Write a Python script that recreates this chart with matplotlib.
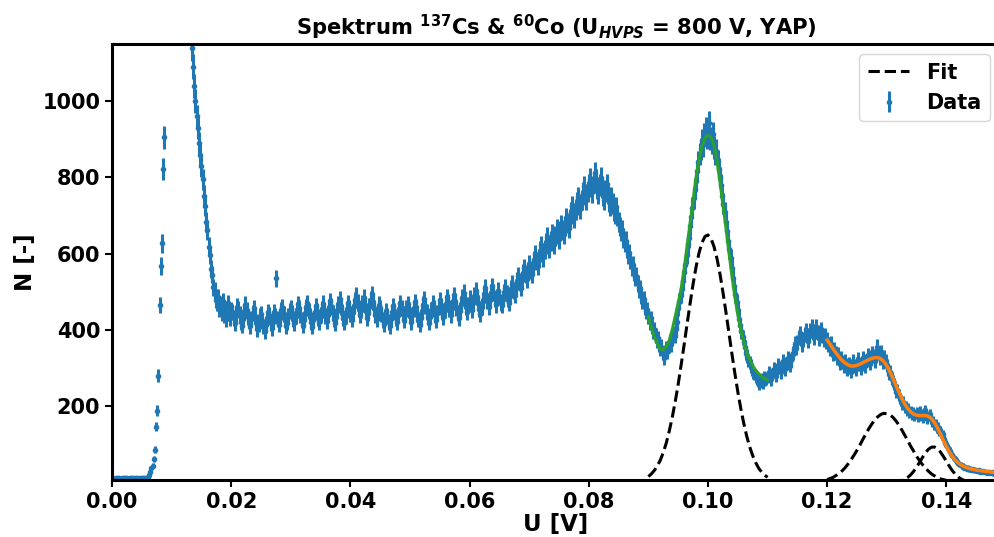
import numpy as np
import matplotlib.pyplot as plt

plt.rcParams['font.family'] = 'DejaVu Sans'
plt.rcParams['font.weight'] = 'bold'
plt.rcParams['axes.labelweight'] = 'bold'
plt.rcParams['axes.titleweight'] = 'bold'
plt.rcParams['mathtext.fontset'] = 'custom'
plt.rcParams['mathtext.rm'] = 'DejaVu Sans:bold'
plt.rcParams['mathtext.it'] = 'DejaVu Sans:italic:bold'
plt.rcParams['mathtext.bf'] = 'DejaVu Sans:bold'

# channel width of the spectrum [V]
bin_width = 0.0002

# counts per channel (0.000 - 0.0148 V)
counts_edge = [
    10, 10, 9, 10, 11, 10, 10, 9, 10, 10, 11, 10, 10, 10, 9, 10, 10, 10, 11, 10, 10, 10, 9, 10, 10,
    10, 10, 10, 11, 12, 15, 19, 28, 37, 43, 60, 85, 146, 188, 280, 465, 567, 627, 823, 905, 1250, 1600, 2000, 2400, 2800,
    3200, 3500, 3600, 3500, 3300, 3000, 2700, 2400, 2150, 1950, 1780, 1620, 1500, 1400, 1320, 1250, 1190, 1140, 1090, 1040, 1000, 960, 930, 890, 860,
]
# 0.015 - 0.0648 V
counts_plateau = [
    830, 795, 752, 726, 684, 662, 618, 596, 560, 545, 512, 503, 478, 472, 486, 455, 468, 444, 475, 438, 455, 428, 470, 445, 430,
    452, 446, 431, 418, 437, 461, 455, 442, 420, 411, 428, 449, 466, 451, 433, 424, 410, 429, 443, 458, 437, 419, 402, 415, 436,
    441, 422, 409, 396, 412, 430, 447, 438, 418, 405, 423, 446, 437, 535, 428, 414, 431, 452, 460, 441, 427, 410, 419, 437, 449,
    456, 443, 429, 417, 436, 452, 468, 457, 440, 426, 412, 425, 443, 459, 471, 450, 437, 421, 408, 427, 446, 462, 449, 431, 420,
    438, 454, 469, 451, 436, 423, 440, 459, 475, 462, 444, 429, 417, 435, 452, 466, 480, 461, 447, 430, 419, 437, 455, 471, 458,
    442, 427, 446, 463, 478, 490, 472, 455, 438, 451, 469, 484, 466, 449, 432, 445, 461, 479, 493, 474, 457, 440, 428, 447, 466,
    458, 441, 425, 416, 433, 450, 437, 421, 410, 428, 446, 462, 449, 431, 420, 438, 455, 471, 458, 442, 426, 439, 457, 468, 452,
    436, 421, 438, 456, 472, 459, 441, 427, 414, 430, 449, 466, 480, 463, 447, 433, 419, 435, 452, 470, 458, 440, 425, 443, 461,
    477, 463, 448, 434, 451, 469, 486, 472, 455, 440, 458, 476, 491, 474, 459, 445, 432, 450, 468, 484, 497, 478, 461, 447, 465,
    482, 468, 453, 471, 489, 503, 486, 470, 455, 442, 460, 478, 495, 511, 492, 476, 461, 479, 497, 514, 498, 481, 467, 485, 502,
]
# 0.065 - 0.0948 V
counts_compton = [
    486, 472, 465, 481, 498, 511, 495, 483, 470, 489, 507, 521, 504, 492, 510, 528, 542, 525, 511, 530, 549, 563, 546, 534, 555,
    572, 558, 547, 566, 584, 598, 580, 567, 589, 608, 622, 603, 590, 611, 629, 644, 625, 612, 633, 651, 638, 624, 646, 664, 650,
    638, 659, 676, 662, 651, 672, 693, 680, 668, 690, 709, 724, 705, 693, 716, 734, 748, 729, 718, 741, 760, 777, 756, 742, 764,
    781, 797, 776, 761, 788, 812, 794, 772, 758, 780, 799, 775, 753, 741, 766, 782, 758, 737, 726, 748, 731, 712, 703, 722, 700,
    684, 671, 659, 662, 641, 628, 633, 612, 598, 601, 584, 566, 571, 552, 538, 541, 522, 506, 509, 490, 477, 480, 461, 449, 452,
    436, 421, 430, 409, 396, 401, 386, 372, 378, 361, 349, 356, 340, 326, 343, 352, 341, 358, 369, 362, 378, 391, 384, 402, 421,
]
# 0.095 - 0.1498 V
counts_peaks = [
    458, 474, 492, 508, 527, 551, 570, 597, 624, 640, 672, 695, 721, 745, 770, 791, 818, 840, 862, 875, 896, 884, 912, 927, 905,
    921, 944, 902, 890, 915, 878, 862, 870, 843, 821, 800, 781, 752, 731, 710, 684, 660, 634, 611, 588, 561, 537, 515, 493, 472,
    451, 429, 412, 396, 380, 368, 354, 340, 331, 320, 314, 305, 296, 289, 284, 278, 272, 265, 258, 263, 270, 261, 276, 268, 272,
    276, 289, 281, 270, 284, 298, 291, 279, 294, 308, 301, 289, 303, 318, 310, 297, 312, 327, 319, 306, 322, 338, 350, 364, 352,
    367, 379, 391, 376, 362, 374, 388, 399, 384, 371, 385, 398, 409, 394, 381, 396, 407, 392, 378, 389, 401, 386, 373, 384, 369,
    376, 362, 351, 364, 348, 336, 349, 338, 325, 336, 322, 312, 327, 316, 303, 318, 309, 296, 311, 302, 290, 306, 318, 304, 297,
    311, 323, 309, 298, 314, 327, 318, 305, 320, 334, 323, 311, 328, 340, 331, 318, 336, 356, 338, 325, 341, 329, 316, 330, 319,
    306, 297, 284, 290, 272, 265, 257, 250, 236, 242, 229, 220, 214, 205, 211, 196, 200, 188, 193, 181, 187, 176, 183, 174, 180,
    183, 170, 177, 186, 174, 168, 181, 189, 176, 166, 173, 180, 165, 158, 162, 150, 154, 141, 146, 132, 136, 122, 126, 113, 104,
    100, 91, 86, 83, 75, 72, 64, 61, 58, 52, 51, 47, 46, 42, 43, 38, 40, 36, 38, 34, 36, 33, 35, 31, 33,
    32, 29, 31, 28, 30, 27, 29, 26, 28, 25, 27, 26, 24, 26, 25, 23, 25, 24, 22, 24, 23, 22, 23, 21, 22,
]

# fitted curves, sampled every 0.5 mV
green_range = (0.090, 0.110)
green_fit = [434, 405, 381, 363, 350, 348, 356, 372, 400, 435, 470, 508, 560, 620, 680,
             740, 800, 848, 882, 903, 911, 905, 885, 845, 790, 730, 670, 605, 545, 488,
             440, 400, 368, 342, 322, 306, 294, 285, 278, 272, 268]
peak1_gauss = [15, 22, 31, 43, 58, 78, 103, 134, 170, 211, 257, 308, 361, 416, 469,
               520, 565, 602, 629, 645, 649, 640, 619, 588, 548, 500, 448, 394, 339, 287,
               238, 194, 155, 121, 93, 70, 52, 37, 27, 19, 13]

orange_range = (0.120, 0.149)
orange_fit = [373, 362, 350, 339, 329, 320, 313, 308, 305, 305, 307, 310, 314, 318, 322,
              325, 327, 327, 324, 317, 306, 291, 274, 256, 238, 221, 206, 194, 185, 179,
              176, 175, 175, 175, 173, 167, 157, 143, 127, 110, 94, 80, 68, 58, 51,
              45, 41, 38, 36, 34, 32, 31, 30, 29, 28, 27, 26, 25, 25]
peak2_gauss = [7, 10, 13, 18, 23, 30, 38, 48, 59, 71, 84, 98, 113, 127, 141,
               153, 164, 172, 178, 181, 180, 177, 171, 162, 151, 138, 124, 110, 95, 82,
               68, 57, 46, 37, 29, 22, 17, 12, 9, 7, 5, 3, 2, 1.5, 1,
               0.7, 0.5, 0.3, 0.2, 0.1, 0.1, 0, 0, 0, 0, 0, 0, 0, 0]
peak3_gauss = [0, 0, 0, 0, 0, 0, 0, 0, 0, 0, 0, 0, 0, 0, 0,
               0, 0, 0, 0.1, 0.2, 0.3, 0.5, 0.8, 1.2, 2.4, 4.4, 7.6, 12.5, 19.4, 28.5,
               39.7, 52.3, 65.4, 77.4, 86.8, 92.1, 92.6, 88.2, 79.5, 67.9, 55.0, 42.1, 30.6, 21.0,
               13.7, 8.4, 4.9, 2.7, 1.4, 0.7, 0.3, 0.1, 0, 0, 0, 0, 0, 0, 0]


def main():
    counts = np.array(counts_edge + counts_plateau + counts_compton + counts_peaks,
                      dtype=float)
    u = np.arange(len(counts)) * bin_width
    u_green = np.linspace(*green_range, len(green_fit))
    u_orange = np.linspace(*orange_range, len(orange_fit))

    fig = plt.figure(figsize=(9.95, 5.37), dpi=100)
    ax = fig.add_axes([112 / 995, 57 / 537, 888 / 995, 436 / 537])

    ax.errorbar(u, counts, yerr=np.sqrt(counts), fmt='.', color='C0',
                markersize=6, elinewidth=2.2, label='Data', zorder=1)

    ax.plot(u_green, green_fit, color='C2', lw=2.2, zorder=3)
    ax.plot(u_orange, orange_fit, color='C1', lw=2.5, zorder=3)
    ax.plot(u_green, peak1_gauss, 'k--', lw=2.2, label='Fit', zorder=3)
    ax.plot(u_orange, peak2_gauss, 'k--', lw=2.2, zorder=3)
    ax.plot(u_orange, peak3_gauss, 'k--', lw=2.2, zorder=3)

    ax.set_xlim(0, 0.149)
    ax.set_ylim(6, 1150)
    ax.set_yticks([200, 400, 600, 800, 1000])
    ax.set_xticks(np.arange(0, 0.141, 0.02))
    ax.tick_params(labelsize=15, width=1.5, length=5)
    for sp in ax.spines.values():
        sp.set_linewidth(2.2)

    ax.set_xlabel('U [V]', fontsize=16.5, labelpad=1)
    ax.set_ylabel('N [-]', fontsize=16.5)
    ax.set_title(r'Spektrum $^{137}$Cs & $^{60}$Co (U$_{HVPS}$ = 800 V, YAP)',
                 fontsize=15.2)
    ax.legend(loc='upper right', prop={'weight': 'bold', 'size': 15})

    fig.savefig('out.png', dpi=100)


if __name__ == "__main__":
    main()
